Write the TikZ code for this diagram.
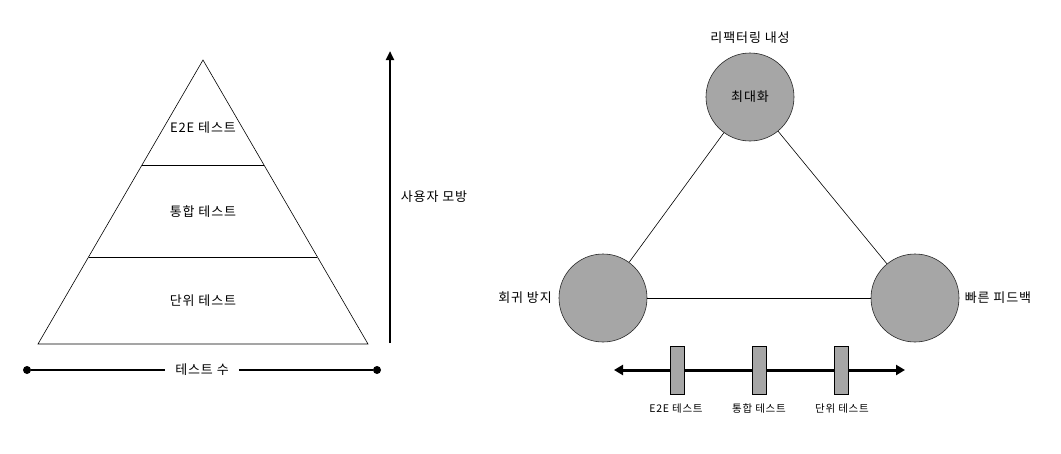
\documentclass[tikz,border=0pt]{standalone}
\usepackage{fontspec}
\setmainfont{Noto Sans CJK KR}[LetterSpace=7]
\usetikzlibrary{arrows.meta}
\definecolor{cfill}{HTML}{A6A6A6}
\tikzset{
  lbl/.style={font=\fontsize{13}{15}\selectfont, inner sep=1pt},
  slbl/.style={font=\fontsize{10.5}{12}\selectfont, inner sep=1pt},
  ball/.style={circle, draw=black!85, fill=cfill, minimum size=88pt, inner sep=0pt, line width=0.6pt},
  bar/.style={draw=black, fill=cfill, minimum width=14pt, minimum height=48pt, inner sep=0pt, line width=0.6pt},
  thin/.style={line width=0.6pt},
}
\begin{document}
\begin{tikzpicture}[x=1pt,y=-1pt]
\useasboundingbox[fill=white] (0,0) rectangle (1061,453);
% pyramid
\coordinate (apex) at (203,60);
\coordinate (bl) at (38,344);
\coordinate (br) at (368,344);
\draw[thin] (apex) -- (bl) -- (br) -- cycle;
\coordinate (l1a) at (142,165); \coordinate (l1b) at (264,165);
\coordinate (l2a) at (89,257); \coordinate (l2b) at (317,257);
\draw[thin] (l1a) -- (l1b);
\draw[thin] (l2a) -- (l2b);
\node[lbl] (e2e) at (203,128) {E2E 테스트};
\node[lbl] (integ) at (203,212) {통합 테스트};
\node[lbl] (unit) at (203,301) {단위 테스트};
% count line
\node[circle, fill=black, minimum size=8pt, inner sep=0pt] (d1) at (27,370) {};
\node[circle, fill=black, minimum size=8pt, inner sep=0pt] (d2) at (377,370) {};
\node[lbl, inner xsep=10pt] (cnt) at (202,370) {테스트 수};
\draw[line width=2pt] (d1) -- (cnt.west);
\draw[line width=2pt] (cnt.east) -- (d2);
% vertical arrow
\coordinate (vb) at (390,343);
\coordinate (vt) at (390,51);
\draw[line width=2.3pt, -{Triangle[length=9pt,width=8pt]}] (vb) -- (vt);
\node[lbl] (mimic) at (434,197) {사용자 모방};
% right triangle of circles
\node[ball] (top) at (750,97) {};
\node[lbl] at (top) {최대화};
\node[ball] (left) at (603,298) {};
\node[ball] (right) at (915,298) {};
\draw[thin] (top) -- (left);
\draw[thin] (top) -- (right);
\draw[thin] (left) -- (right);
\node[lbl] (reft) at (750,38) {리팩터링 내성};
\node[lbl] (regr) at (525,298) {회귀 방지};
\node[lbl] (fast) at (998,298) {빠른 피드백};
% bottom axis
\coordinate (al) at (614,370);
\coordinate (ar) at (905,370);
\draw[line width=3pt, {Triangle[length=9pt,width=10pt]}-{Triangle[length=9pt,width=10pt]}] (al) -- (ar);
\node[bar] (b1) at (677,370) {};
\node[bar] (b2) at (759,370) {};
\node[bar] (b3) at (841,370) {};
\node[slbl] (t1) at (676,409) {E2E 테스트};
\node[slbl] (t2) at (759,409) {통합 테스트};
\node[slbl] (t3) at (842,409) {단위 테스트};
\end{tikzpicture}
\end{document}
